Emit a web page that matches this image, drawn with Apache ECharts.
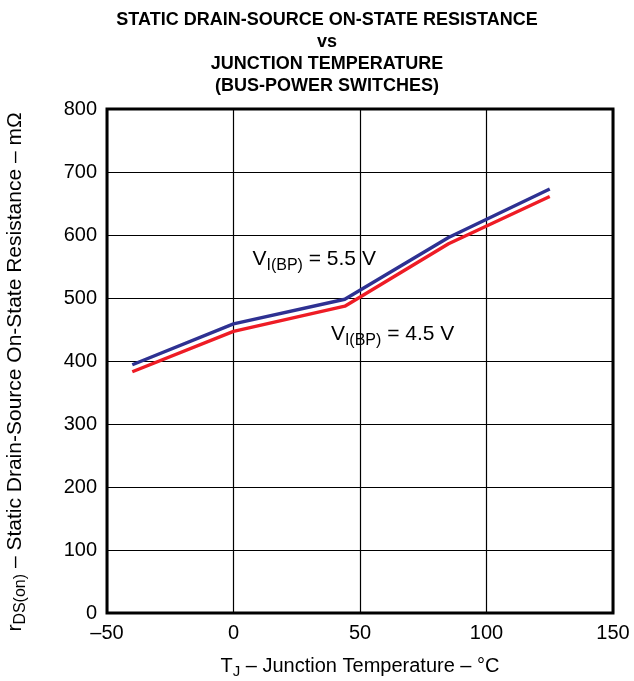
<!DOCTYPE html>
<html>
<head>
<meta charset="utf-8">
<script src="https://cdn.jsdelivr.net/npm/echarts@6/dist/echarts.min.js"></script>
<style>html,body{margin:0;padding:0;background:#fff}#c{width:634px;height:681px}</style>
</head>
<body>
<div id="c"></div>
<script>
const titleLines = ['STATIC DRAIN-SOURCE ON-STATE RESISTANCE', 'vs', 'JUNCTION TEMPERATURE', '(BUS-POWER SWITCHES)'];
const xTicks = [-50, 0, 50, 100, 150];
const yTicks = [0, 100, 200, 300, 400, 500, 600, 700, 800];
const temps = [-40, 0, 44, 85, 125];
const r55 = [394, 459, 498, 596, 673];
const r45 = [383, 447, 487, 586, 661];
const label55 = {x: 7.5, y: 561, v: '5.5 V'};
const label45 = {x: 38.5, y: 442, v: '4.5 V'};

const FONT = 'Liberation Sans, Arial, sans-serif';
const chart = echarts.init(document.getElementById('c'));
function pairs(xs, ys){ return xs.map((x,i)=>[x, ys[i]]); }
const option = {
  animation: false,
  title: {
    text: titleLines.join('\n'),
    left: 322, textAlign: 'center', top: 4,
    textStyle: {fontFamily: FONT, fontWeight: 'bold', fontSize: 18, lineHeight: 22, color: '#000'}
  },
  grid: {left: 107, right: 21, top: 109, bottom: 68, show: true, borderColor: '#000', borderWidth: 3,
    backgroundColor: 'transparent', outerBoundsMode: 'none', containLabel: false},
  xAxis: {
    type: 'value', min: xTicks[0], max: xTicks[xTicks.length-1], interval: 50,
    axisLine: {show: false}, axisTick: {show: false},
    splitLine: {show: true, lineStyle: {color: '#000', width: 1.2}},
    axisLabel: {fontFamily: FONT, fontSize: 20, color: '#000', margin: 10,
      formatter: v => v < 0 ? '\u2013' + Math.abs(v) : String(v)},
    name: '{a|T}{s|J}{a| \u2013 Junction Temperature \u2013 \u00B0C}',
    nameLocation: 'middle', nameGap: 40,
    nameTextStyle: {rich: {
      a: {fontFamily: FONT, fontSize: 20, color: '#000'},
      s: {fontFamily: FONT, fontSize: 15, color: '#000', padding: [11,0,0,0]}
    }}
  },
  yAxis: {
    type: 'value', min: yTicks[0], max: yTicks[yTicks.length-1], interval: 100,
    axisLine: {show: false}, axisTick: {show: false},
    splitLine: {show: true, lineStyle: {color: '#000', width: 1.2}},
    axisLabel: {fontFamily: FONT, fontSize: 20, color: '#000', margin: 10},
    name: '{a|r}{s|DS(on)}{a| \u2013 Static Drain-Source On-State Resistance \u2013 m\u03A9}',
    nameLocation: 'middle', nameGap: 78,
    nameTextStyle: {padding: [0, 22, 0, 0], rich: {
      a: {fontFamily: FONT, fontSize: 21, color: '#000'},
      s: {fontFamily: FONT, fontSize: 16, color: '#000', padding: [11,0,0,0]}
    }}
  },
  series: [
    {type: 'line', data: pairs(temps, r55), symbol: 'none', lineStyle: {color: '#2e3192', width: 3.4}, z: 3},
    {type: 'line', data: pairs(temps, r45), symbol: 'none', lineStyle: {color: '#ee1c25', width: 3.4}, z: 2}
  ]
};
chart.setOption(option);
function annot(l){
  const p = chart.convertToPixel({gridIndex: 0}, [l.x, l.y]);
  return {type: 'text', x: p[0], y: p[1], style: {
    text: '{a|V}{s|I(BP)}{a| = ' + l.v + '}', verticalAlign: 'middle', align: 'left',
    rich: {
      a: {fontFamily: FONT, fontSize: 21, fill: '#000'},
      s: {fontFamily: FONT, fontSize: 16, fill: '#000', padding: [12,0,0,0]}
    }}, z: 10};
}
chart.setOption({graphic: [annot(label55), annot(label45)]});
</script>
</body>
</html>
